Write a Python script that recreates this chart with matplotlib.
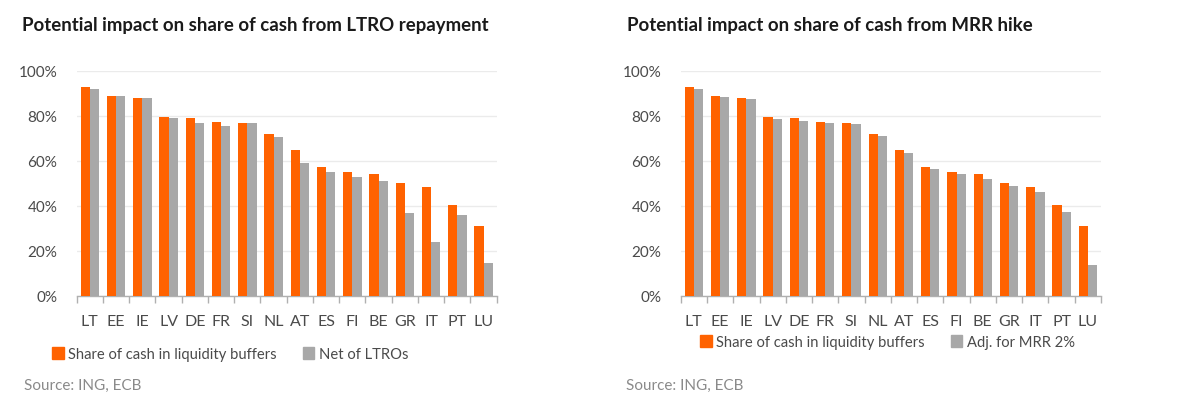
import matplotlib
matplotlib.use("Agg")
import matplotlib.pyplot as plt
from matplotlib.patches import Patch
import numpy as np

plt.rcParams['font.family'] = ['Lato', 'DejaVu Sans']

countries = ["LT", "EE", "IE", "LV", "DE", "FR", "SI", "NL", "AT", "ES", "FI", "BE", "GR", "IT", "PT", "LU"]
share_cash = [92.6, 88.7, 87.7, 79.3, 78.8, 77.3, 76.9, 71.7, 64.6, 57.0, 54.8, 54.1, 49.9, 48.1, 40.1, 31.0]
net_ltro = [92.0, 88.7, 87.7, 79.0, 76.6, 75.4, 76.9, 70.4, 59.1, 54.8, 52.9, 51.0, 36.9, 24.0, 36.0, 14.5]
adj_mrr = [92.0, 88.4, 87.4, 78.5, 77.6, 76.9, 76.1, 70.8, 63.3, 56.1, 54.1, 51.7, 48.6, 46.1, 37.3, 13.6]
yticks = [0, 20, 40, 60, 80, 100]

titles = ["Potential impact on share of cash from LTRO repayment",
          "Potential impact on share of cash from MRR hike"]
series2_labels = ["Net of LTROs", "Adj. for MRR 2%"]
series1_label = "Share of cash in liquidity buffers"
source = "Source: ING, ECB"

ORANGE = "#FF6200"
GREY = "#A8A8A8"
TXT = "#4a4a4a"

W, H = 1200, 410
fig = plt.figure(figsize=(W / 100, H / 100), dpi=100)

def fx(px):
    return px / W

def fy(py):
    return 1 - py / H

panels = [
    dict(x0=76.7, x1=496.7, tx=22, second=net_ltro, lab2=series2_labels[0], legy=355, legx=52, colsp=1.75, srcx=24),
    dict(x0=680.7, x1=1101.0, tx=627, second=adj_mrr, lab2=series2_labels[1], legy=343, legx=700, colsp=1.75, srcx=626),
]
ytop, ybot = 71.7, 296.7

for p, title in zip(panels, titles):
    ax = fig.add_axes([fx(p['x0']), fy(ybot), fx(p['x1'] - p['x0']), (ybot - ytop) / H])
    x = np.arange(len(countries))
    bw = 0.35
    ax.bar(x - bw / 2, share_cash, width=bw, color=ORANGE, zorder=3)
    ax.bar(x + bw / 2, p['second'], width=bw, color=GREY, zorder=3)
    ax.set_xlim(-0.5, len(countries) - 0.5)
    ax.set_ylim(0, 100)
    ax.set_yticks(yticks)
    ax.set_yticklabels([f"{v}%" for v in yticks])
    ax.yaxis.grid(True, color="#ebebeb", linewidth=1.0, zorder=0)
    for s in ["top", "right", "left"]:
        ax.spines[s].set_visible(False)
    ax.spines["bottom"].set_color("#b0b0b0")
    ax.spines["bottom"].set_linewidth(1.0)
    ax.set_xticks(x)
    ax.set_xticklabels(countries)
    ax.set_xticks(np.arange(-0.5, len(countries)), minor=True)
    ax.tick_params(axis="x", which="major", length=0, pad=13, labelsize=11.5, labelcolor=TXT)
    ax.tick_params(axis="x", which="minor", length=5, color="#b0b0b0", width=1.0)
    ax.tick_params(axis="y", length=0, pad=14, labelsize=11, labelcolor=TXT)
    fig.text(fx(p['tx']), fy(26), title, fontsize=13.4, fontweight="bold", color="#1a1a1a",
             ha="left", va="center")
    handles = [Patch(color=ORANGE, label=series1_label), Patch(color=GREY, label=p['lab2'])]
    fig.legend(handles=handles, loc="center left", bbox_to_anchor=(fx(p['legx']), fy(p['legy'])),
               ncol=2, frameon=False, fontsize=10.6, handlelength=0.8, handleheight=0.8,
               handletextpad=0.3, columnspacing=p['colsp'], borderaxespad=0, borderpad=0,
               labelcolor=TXT)
    fig.text(fx(p['srcx']), fy(386), source, fontsize=11, color="#8a8a8a", ha="left", va="center")

fig.savefig("out.png", dpi=100, facecolor="white")
